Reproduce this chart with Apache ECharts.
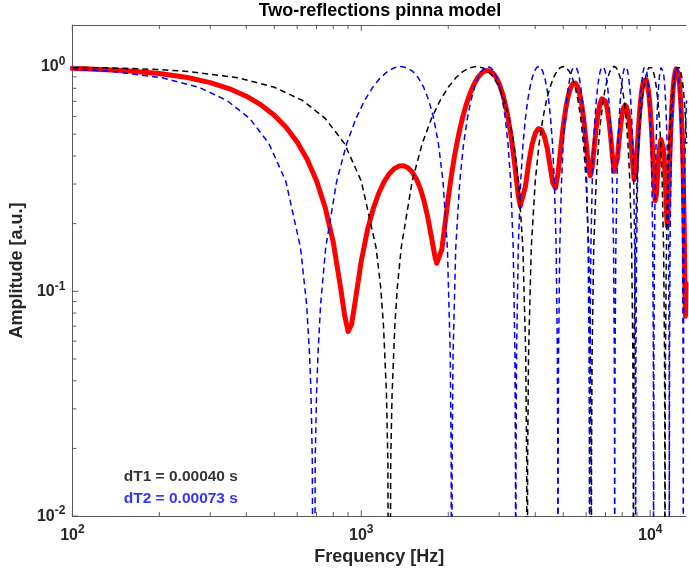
<!DOCTYPE html>
<html>
<head>
<meta charset="utf-8">
<script src="https://cdn.jsdelivr.net/npm/echarts@6.0.0/dist/echarts.min.js"></script>
<style>html,body{margin:0;padding:0;background:#fff}#c{width:689px;height:571px}</style>
</head>
<body>
<div id="c"></div>
<script>
// ---------- data ----------
const title = 'Two-reflections pinna model';
const xName = 'Frequency [Hz]';
const yName = 'Amplitude [a.u.]';
const note1 = 'dT1 = 0.00040 s';
const note2 = 'dT2 = 0.00073 s';
const note1Pos = [150, 0.015];
const note2Pos = [150, 0.012];

const X_MIN = 100, X_MAX = 13300, Y_MIN = 0.01, Y_MAX = 1.53;
const xMajorTicks = [100, 1000, 10000];
const xMinorTicks = [200,300,400,500,600,700,800,900,2000,3000,4000,5000,6000,7000,8000,9000];
const yMajorTicks = [0.01, 0.1, 1];
const yMinorTicks = [0.02,0.03,0.04,0.05,0.06,0.07,0.08,0.09,0.2,0.3,0.4,0.5,0.6,0.7,0.8,0.9];

// combined response (red)
const redFreq = [
  100,150,200,250,300,350,400,450,500,550,
  600,650,700,750,800,850,875,900,910,925,950,
  1000,1050,1100,1150,1200,1250,1300,1350,1400,1450,
  1500,1550,1600,1650,1700,1750,1800,1825,1840,1850,1900,1950,
  2000,2050,2100,2150,2200,2250,2300,2350,2400,2450,
  2500,2550,2600,2650,2700,2750,2800,2850,2900,2950,
  3000,3100,3200,3300,3400,3500,3550,3600,3700,3800,3900,
  4000,4100,4200,4300,4400,4500,4600,4700,4800,4900,
  5000,5100,5200,5300,5400,5500,5600,5700,5800,5900,
  6000,6100,6200,6300,6400,6500,6600,6700,6800,6900,
  7000,7100,7200,7300,7400,7500,7600,7700,7800,7900,
  8000,8100,8200,8300,8400,8500,8600,8700,8800,8900,
  9000,9100,9200,9300,9400,9500,9600,9700,9800,9900,
  10000,10100,10200,10300,10400,10450,10500,10600,10700,10800,10900,
  11000,11100,11200,11300,11400,11450,11500,11600,11700,11800,11900,
  12000,12100,12200,12300,12400,12500,12600,12700,12800,12900,
  13000,13100,13200,13250,13300
];
const redAmp = [
  .9825,.9608,.9309,.8931,.8479,.7959,.7379,.6746,.6068,.5354,
  .4616,.3862,.3106,.2361,.1650,.1018,.0786,.0662,.0660,.0710,.0881,
  .1365,.1870,.2333,.2738,.3075,.3333,.3512,.3607,.3618,.3547,
  .3395,.3166,.2870,.2517,.2125,.1734,.1421,.1333,.1314,.1321,.1538,.2003,
  .2602,.3267,.3963,.4665,.5360,.6031,.6669,.7264,.7806,.8288,
  .8702,.9043,.9307,.9488,.9585,.9596,.9521,.9361,.9118,.8796,
  .8400,.7410,.6213,.4901,.3619,.2634,.2394,.2388,.2929,.3751,.4502,
  .5037,.5289,.5239,.4902,.4332,.3637,.3035,.2877,.3375,.4324,
  .5425,.6483,.7378,.8031,.8393,.8435,.8154,.7566,.6720,.5691,
  .4605,.3682,.3265,.3573,.4376,.5318,.6172,.6817,.7188,.7253,
  .7010,.6485,.5734,.4851,.3994,.3414,.3383,.3900,.4692,.5497,
  .6160,.6586,.6726,.6561,.6102,.5393,.4523,.3664,.3139,.3310,
  .4133,.5249,.6389,.7398,.8180,.8677,.8853,.8699,.8224,.7463,
  .6467,.5318,.4129,.3094,.2531,.2522,.2684,.3292,.3959,.4472,.4729,
  .4688,.4341,.3722,.2916,.2152,.1953,.1996,.2802,.4082,.5465,.6789,
  .7945,.8861,.9483,.9775,.9722,.9326,.8610,.7611,.6385,.5000,
  .3535,.2094,.0915,.0775,.1084
];

// single reflection dT1 (black dashed)
const blackFreq = [
  100,150,200,250,375,500,625,750,875,1000,1125,
  1167,1194,1222,1236,1250,1264,1278,1306,1333,
  1375,1500,1625,1750,1875,2000,2125,2250,2375,2500,2625,2750,2875,3000,3125,3250,3375,3500,3625,
  3708,3736,3750,3764,3792,
  3875,4000,4125,4250,4375,4500,4625,4750,4875,5000,5125,5250,5375,5500,5625,5750,5875,6000,6125,
  6208,6236,6250,6264,6292,
  6375,6500,6625,6750,6875,7000,7125,7250,7375,7500,7625,7750,7875,8000,8125,8250,8375,8500,8625,
  8708,8736,8750,8764,8792,
  8875,9000,9125,9250,9375,9500,9625,9750,9875,10000,10125,10250,10375,10500,10625,10750,10875,11000,11125,
  11208,11236,11250,11264,11292,
  11375,11500,11625,11750,11875,12000,12125,12250,12375,12500,12625,12750,12875,13000,13125,13250,13375
];
const blackAmp = [
  .9921,.9823,.9686,.9511,.8910,.8090,.7071,.5878,.4540,.3090,.1564,
  .1045,.0698,.0349,.01745,.0001,.01745,.0349,.0698,.1045,
  .1564,.3090,.4540,.5878,.7071,.8090,.8910,.9511,.9877,1,.9877,.9511,.8910,.8090,.7071,.5878,.4540,.3090,.1564,
  .0523,.01745,.0001,.01745,.0523,
  .1564,.3090,.4540,.5878,.7071,.8090,.8910,.9511,.9877,1,.9877,.9511,.8910,.8090,.7071,.5878,.4540,.3090,.1564,
  .0523,.01745,.0001,.01745,.0523,
  .1564,.3090,.4540,.5878,.7071,.8090,.8910,.9511,.9877,1,.9877,.9511,.8910,.8090,.7071,.5878,.4540,.3090,.1564,
  .0523,.01745,.0001,.01745,.0523,
  .1564,.3090,.4540,.5878,.7071,.8090,.8910,.9511,.9877,1,.9877,.9511,.8910,.8090,.7071,.5878,.4540,.3090,.1564,
  .0523,.01745,.0001,.01745,.0523,
  .1564,.3090,.4540,.5878,.7071,.8090,.8910,.9511,.9877,1,.9877,.9511,.8910,.8090,.7071,.5878,.4540
];

// single reflection dT2 (blue dashed)
const blueFreq = [
  100,137,205,274,342,411,479,548,616,
  647,662,670,677,685,692.5,700,708,723,
  753,822,890,959,1027,1096,1164,1233,1301,1370,1438,1507,1575,1644,1712,1781,1849,1918,1986,
  2032,2047,2055,2062,2078,
  2123,2192,2260,2329,2397,2466,2534,2603,2671,2740,2808,2877,2945,3014,3082,3151,3219,3288,3356,
  3402,3417,3425,3432,3447,
  3493,3562,3630,3699,3767,3836,3904,3973,4041,4110,4178,4247,4315,4384,4452,4521,4589,4658,4726,
  4772,4787,4795,4802,4817,
  4863,4932,5000,5068,5137,5205,5274,5342,5411,5479,5548,5616,5685,5753,5822,5890,5959,6027,6096,
  6142,6157,6164,6172,6187,
  6233,6301,6370,6438,6507,6575,6644,6712,6781,6849,6918,6986,7055,7123,7192,7260,7329,7397,7466,
  7511,7527,7534,7542,7557,
  7603,7671,7740,7808,7877,7945,8014,8082,8151,8219,8288,8356,8425,8493,8562,8630,8699,8767,8836,
  8881,8897,8904,8912,8927,
  8973,9041,9110,9178,9247,9315,9384,9452,9521,9589,9658,9726,9795,9863,9932,10000,10068,10137,10205,
  10251,10266,10274,10282,10297,
  10342,10411,10479,10548,10616,10685,10753,10822,10890,10959,11027,11096,11164,11233,11301,11370,11438,11507,11575,
  11621,11636,11644,11651,11667,
  11712,11781,11849,11918,11986,12055,12123,12192,12260,12329,12397,12466,12534,12603,12671,12740,12808,12877,12945,
  12991,13006,13014,13021,13037,
  13082,13151,13219,13288,13356
];
const blueAmp = [
  .9738,.9511,.8910,.8090,.7071,.5878,.4540,.3090,.1564,
  .0872,.0523,.0349,.01745,.0001,.01745,.0349,.0523,.0872,
  .1564,.3090,.4540,.5878,.7071,.8090,.8910,.9511,.9877,1,.9877,.9511,.8910,.8090,.7071,.5878,.4540,.3090,.1564,
  .0523,.01745,.0001,.01745,.0523,
  .1564,.3090,.4540,.5878,.7071,.8090,.8910,.9511,.9877,1,.9877,.9511,.8910,.8090,.7071,.5878,.4540,.3090,.1564,
  .0523,.01745,.0001,.01745,.0523,
  .1564,.3090,.4540,.5878,.7071,.8090,.8910,.9511,.9877,1,.9877,.9511,.8910,.8090,.7071,.5878,.4540,.3090,.1564,
  .0523,.01745,.0001,.01745,.0523,
  .1564,.3090,.4540,.5878,.7071,.8090,.8910,.9511,.9877,1,.9877,.9511,.8910,.8090,.7071,.5878,.4540,.3090,.1564,
  .0523,.01745,.0001,.01745,.0523,
  .1564,.3090,.4540,.5878,.7071,.8090,.8910,.9511,.9877,1,.9877,.9511,.8910,.8090,.7071,.5878,.4540,.3090,.1564,
  .0523,.01745,.0001,.01745,.0523,
  .1564,.3090,.4540,.5878,.7071,.8090,.8910,.9511,.9877,1,.9877,.9511,.8910,.8090,.7071,.5878,.4540,.3090,.1564,
  .0523,.01745,.0001,.01745,.0523,
  .1564,.3090,.4540,.5878,.7071,.8090,.8910,.9511,.9877,1,.9877,.9511,.8910,.8090,.7071,.5878,.4540,.3090,.1564,
  .0523,.01745,.0001,.01745,.0523,
  .1564,.3090,.4540,.5878,.7071,.8090,.8910,.9511,.9877,1,.9877,.9511,.8910,.8090,.7071,.5878,.4540,.3090,.1564,
  .0523,.01745,.0001,.01745,.0523,
  .1564,.3090,.4540,.5878,.7071,.8090,.8910,.9511,.9877,1,.9877,.9511,.8910,.8090,.7071,.5878,.4540,.3090,.1564,
  .0523,.01745,.0001,.01745,.0523,
  .1564,.3090,.4540,.5878,.7071
];

// ---------- rendering ----------
const F = '"Liberation Sans", Arial, Helvetica, sans-serif';
const AX = '#5a5a5a';
const TXT = '#262626';
const pair = (xs, ys) => xs.map((x, i) => [x, ys[i]]);

const RICH = {
  b: { fontFamily: F, fontSize: 16, fontWeight: 'bold', color: TXT, lineHeight: 22 },
  s: { fontFamily: F, fontSize: 12, fontWeight: 'bold', color: TXT, lineHeight: 12, verticalAlign: 'top' }
};
function powLabel(v) {
  const l = Math.log10(v);
  const e = Math.round(l);
  return Math.abs(l - e) < 1e-6 ? '{b|10}{s|' + e + '}' : '';
}
function xTicks(len) {
  return function (params, api) {
    const v = api.value(0);
    const b = api.coord([v, Y_MIN]);
    const t = api.coord([v, Y_MAX]);
    const st = { stroke: AX, lineWidth: 1 };
    return { type: 'group', children: [
      { type: 'line', shape: { x1: b[0], y1: b[1], x2: b[0], y2: b[1] - len }, style: st },
      { type: 'line', shape: { x1: t[0], y1: t[1], x2: t[0], y2: t[1] + len }, style: st }
    ]};
  };
}
function yTicks(len) {
  return function (params, api) {
    const p = api.coord([X_MIN, api.value(1)]);
    return { type: 'line', shape: { x1: p[0], y1: p[1], x2: p[0] + len, y2: p[1] }, style: { stroke: AX, lineWidth: 1 } };
  };
}

const chart = echarts.init(document.getElementById('c'), null, { renderer: 'canvas' });
chart.setOption({
  animation: false,
  backgroundColor: '#ffffff',
  grid: { left: 70, right: 0, top: 25, bottom: 51, containLabel: false },
  graphic: [{
    type: 'text', x: 380, y: 11,
    style: { text: title, font: 'bold 18px ' + F, fill: '#000', align: 'center', verticalAlign: 'middle', textAlign: 'center', textVerticalAlign: 'middle' }
  }],
  xAxis: [{
    type: 'log', logBase: 10, min: X_MIN, max: X_MAX, position: 'bottom',
    axisLine: { show: true, onZero: false, lineStyle: { color: AX, width: 1 } },
    axisTick: { show: false }, minorTick: { show: false }, splitLine: { show: false },
    axisLabel: { formatter: powLabel, rich: RICH, margin: 8 },
    name: xName, nameLocation: 'middle', nameGap: 27,
    nameTextStyle: { fontFamily: F, fontSize: 18, fontWeight: 'bold', color: TXT }
  }, {
    type: 'log', logBase: 10, min: X_MIN, max: X_MAX, position: 'top',
    axisLine: { show: true, onZero: false, lineStyle: { color: AX, width: 1 } },
    axisTick: { show: false }, splitLine: { show: false }, axisLabel: { show: false }
  }],
  yAxis: [{
    type: 'log', logBase: 10, min: Y_MIN, max: Y_MAX,
    axisLine: { show: true, onZero: false, lineStyle: { color: AX, width: 1 } },
    axisTick: { show: false }, minorTick: { show: false }, splitLine: { show: false },
    axisLabel: { formatter: powLabel, rich: RICH, margin: 7 },
    name: yName, nameLocation: 'middle', nameGap: 41,
    nameTextStyle: { fontFamily: F, fontSize: 18, fontWeight: 'bold', color: TXT }
  }],
  series: [
    { type: 'line', data: pair(redFreq, redAmp), symbol: 'none', clip: true, z: 2,
      lineStyle: { color: '#ff0000', width: 5, cap: 'round', join: 'round' } },
    { type: 'line', data: pair(blackFreq, blackAmp), symbol: 'none', clip: true, z: 3,
      lineStyle: { color: '#000000', width: 1.5, type: [6, 4] } },
    { type: 'line', data: pair(blueFreq, blueAmp), symbol: 'none', clip: true, z: 4,
      lineStyle: { color: '#0000ff', width: 1.5, type: [6, 4] } },
    { type: 'scatter', data: [note1Pos], symbolSize: 1, itemStyle: { color: 'rgba(0,0,0,0)' }, z: 6,
      label: { show: true, position: 'right', distance: 0, formatter: note1, fontFamily: F, fontSize: 15.5, fontWeight: 'bold', color: '#000000' } },
    { type: 'scatter', data: [note2Pos], symbolSize: 1, itemStyle: { color: 'rgba(0,0,0,0)' }, z: 6,
      label: { show: true, position: 'right', distance: 0, formatter: note2, fontFamily: F, fontSize: 15.5, fontWeight: 'bold', color: '#0000ff' } },
    { type: 'custom', data: xMajorTicks.map(v => [v, Y_MIN]), renderItem: xTicks(6), clip: false, silent: true, z: 5 },
    { type: 'custom', data: xMinorTicks.map(v => [v, Y_MIN]), renderItem: xTicks(4), clip: false, silent: true, z: 5 },
    { type: 'custom', data: yMajorTicks.map(v => [X_MIN, v]), renderItem: yTicks(6), clip: false, silent: true, z: 5 },
    { type: 'custom', data: yMinorTicks.map(v => [X_MIN, v]), renderItem: yTicks(4), clip: false, silent: true, z: 5 }
  ]
});
</script>
</body>
</html>
